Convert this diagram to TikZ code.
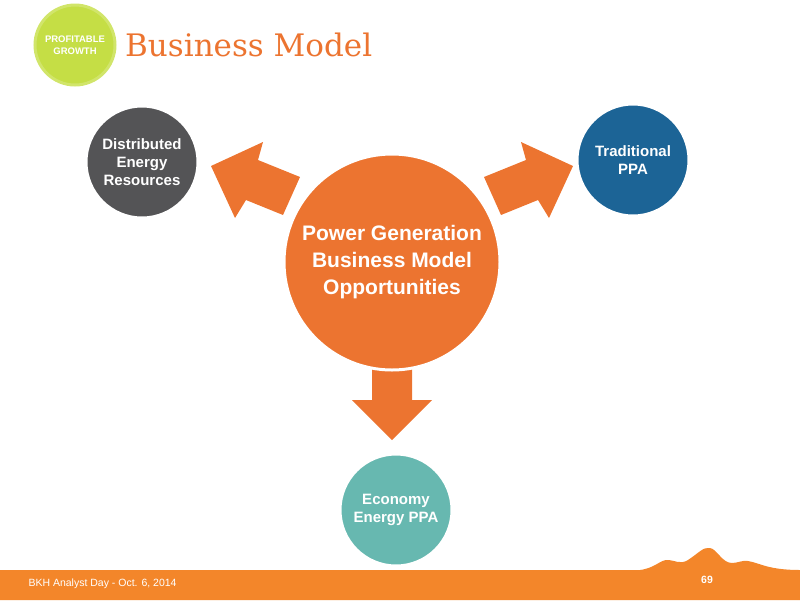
\documentclass[tikz,border=0pt]{standalone}
\usepackage{fontspec}
\setmainfont{Liberation Sans}
\newfontfamily\slab{DejaVu Serif}
\definecolor{orng}{HTML}{EC7430}
\definecolor{foot}{HTML}{F3862A}
\definecolor{grn}{HTML}{C5DE45}
\definecolor{dgray}{HTML}{545456}
\definecolor{blu}{HTML}{1C6496}
\definecolor{teal}{HTML}{67B8B0}
\begin{document}
\begin{tikzpicture}[x=1pt,y=-1pt,
  circ/.style={circle,draw=white,line width=3pt,text=white,font=\bfseries\fontsize{15}{18}\selectfont,align=center},
  arr/.style={fill=orng}]
\useasboundingbox (0,0) rectangle (800,600);
% arrows
\fill[arr] (211,166) -- (263,142) -- (258,160) -- (300,177) -- (283,215) -- (246,200) -- (235,218) -- cycle;
\fill[arr] (573,166) -- (521,142) -- (526,160) -- (484,177) -- (501,215) -- (538,200) -- (549,218) -- cycle;
\fill[arr] (372,355) -- (412,355) -- (412,400) -- (432,400) -- (392,440) -- (352,400) -- (372,400) -- cycle;
% circles
\node[circ,fill=grn,draw=grn!80!white,minimum size=80pt,font=\bfseries\fontsize{9.5}{12}\selectfont] (pg) at (75,45) {PROFITABLE\\GROWTH};
\node[anchor=west,text=orng,font=\slab\fontsize{31}{33}\selectfont,inner sep=0] (title) at (125,45) {Business Model};
\node[circ,fill=dgray,minimum size=112pt] (der) at (142,162) {Distributed\\Energy\\Resources};
\node[circ,fill=blu,minimum size=112pt] (ppa) at (633,160) {Traditional\\PPA};
\node[circ,fill=orng,minimum size=216pt,font=\bfseries\fontsize{21}{27}\selectfont] (pw) at (392,262) {Power Generation\\Business Model\\Opportunities};
\node[circ,fill=teal,minimum size=112pt] (eco) at (396,510) {Economy\\Energy PPA};
% footer
\fill[foot] (0,570) -- (640,570) .. controls (655,568) and (660,560) .. (667,560)
  .. controls (675,560) and (680,565) .. (688,560) .. controls (700,552) and (703,547) .. (710,548)
  .. controls (717,549) and (722,563) .. (732,563) .. controls (738,563) and (742,560) .. (748,561)
  .. controls (760,563) and (768,570) .. (800,570) -- (800,600) -- (0,600) -- cycle;
\node[anchor=west,text=white,font=\fontsize{10.5}{12}\selectfont] (ft) at (25,584) {BKH Analyst Day - Oct. 6, 2014};
\node[text=white,font=\bfseries\fontsize{10.5}{12}\selectfont] (pn) at (707,580) {69};
\end{tikzpicture}
\end{document}
